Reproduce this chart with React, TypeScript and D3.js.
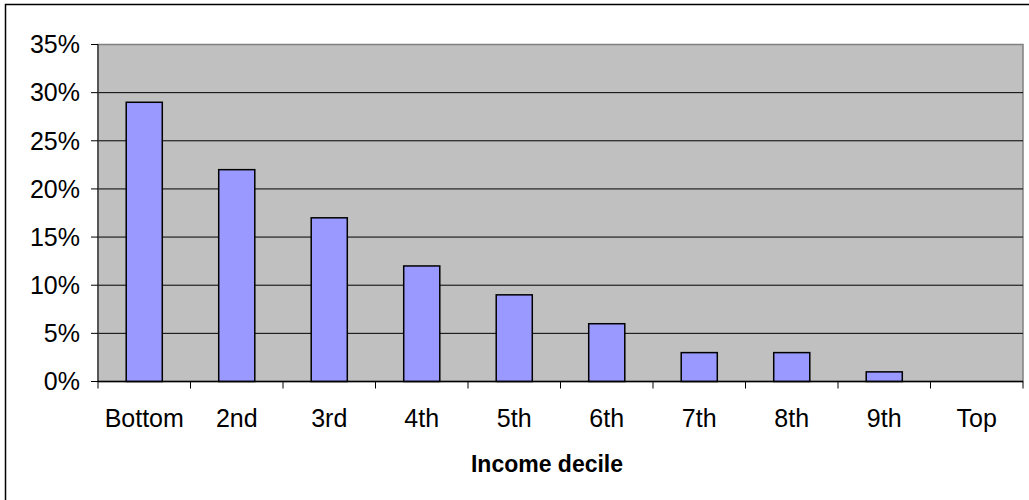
import React from "react";
import * as d3 from "d3";

const categories = ["Bottom", "2nd", "3rd", "4th", "5th", "6th", "7th", "8th", "9th", "Top"];
const shares = [29, 22, 17, 12, 9, 6, 3, 3, 1, 0];
const yTicks = [0, 5, 10, 15, 20, 25, 30, 35];
const axisTitle = "Income decile";

const W = 1029;
const H = 500;
const plot = { left: 98, right: 1023, top: 44.5, bottom: 381.5 };
const font = "'Liberation Sans', Arial, sans-serif";

export default function App() {
  const x = d3
    .scaleBand<string>()
    .domain(categories)
    .range([plot.left, plot.right])
    .paddingInner(0.61)
    .paddingOuter(0.305);
  const band = d3.scaleBand<string>().domain(categories).range([plot.left, plot.right]);
  const y = d3.scaleLinear().domain([0, 35]).range([plot.bottom, plot.top]);

  return (
    <svg
      width={W}
      height={H}
      style={{ position: "absolute", left: 0, top: 0, background: "#fff" }}
      fontFamily={font}
    >
      {/* chart frame */}
      <path d={`M5.5,${H} V4.5 H${W}`} fill="none" stroke="#000" strokeWidth={1.5} />

      {/* plot area */}
      <rect
        x={plot.left}
        y={plot.top}
        width={plot.right - plot.left}
        height={plot.bottom - plot.top}
        fill="#C0C0C0"
        stroke="#808080"
        strokeWidth={1.5}
      />

      {/* gridlines */}
      {yTicks
        .filter((t) => t > 0 && t < 35)
        .map((t) => (
          <line key={t} x1={plot.left} x2={plot.right} y1={y(t)} y2={y(t)} stroke="#000" strokeWidth={1} />
        ))}

      {/* bars */}
      {categories.map((c, i) => (
        <rect
          key={c}
          x={x(c)}
          y={y(shares[i])}
          width={x.bandwidth()}
          height={plot.bottom - y(shares[i])}
          fill="#9999FF"
          stroke="#000"
          strokeWidth={1.5}
          opacity={shares[i] > 0 ? 1 : 0}
        />
      ))}

      {/* y axis */}
      <line x1={plot.left} x2={plot.left} y1={plot.top} y2={plot.bottom} stroke="#404040" strokeWidth={1.5} />
      {yTicks.map((t) => (
        <g key={t}>
          <line x1={plot.left - 7} x2={plot.left} y1={y(t)} y2={y(t)} stroke="#000" strokeWidth={1} />
          <text x={80} y={y(t)} dy="0.35em" textAnchor="end" fontSize={25} fill="#000">
            {d3.format(".0%")(t / 100)}
          </text>
        </g>
      ))}

      {/* x axis */}
      <line x1={plot.left} x2={plot.right} y1={plot.bottom} y2={plot.bottom} stroke="#000" strokeWidth={1.5} />
      {categories.map((c) => (
        <line
          key={c}
          x1={(band(c) as number)}
          x2={(band(c) as number)}
          y1={plot.bottom}
          y2={plot.bottom + 7}
          stroke="#000"
          strokeWidth={1}
        />
      ))}
      <line x1={plot.right} x2={plot.right} y1={plot.bottom} y2={plot.bottom + 7} stroke="#000" strokeWidth={1} />
      {categories.map((c) => (
        <text
          key={c}
          x={(band(c) as number) + band.bandwidth() / 2}
          y={427}
          textAnchor="middle"
          fontSize={25}
          fill="#000"
        >
          {c}
        </text>
      ))}

      <text x={547} y={472} textAnchor="middle" fontSize={23} fontWeight="bold" fill="#000">
        {axisTitle}
      </text>
    </svg>
  );
}
